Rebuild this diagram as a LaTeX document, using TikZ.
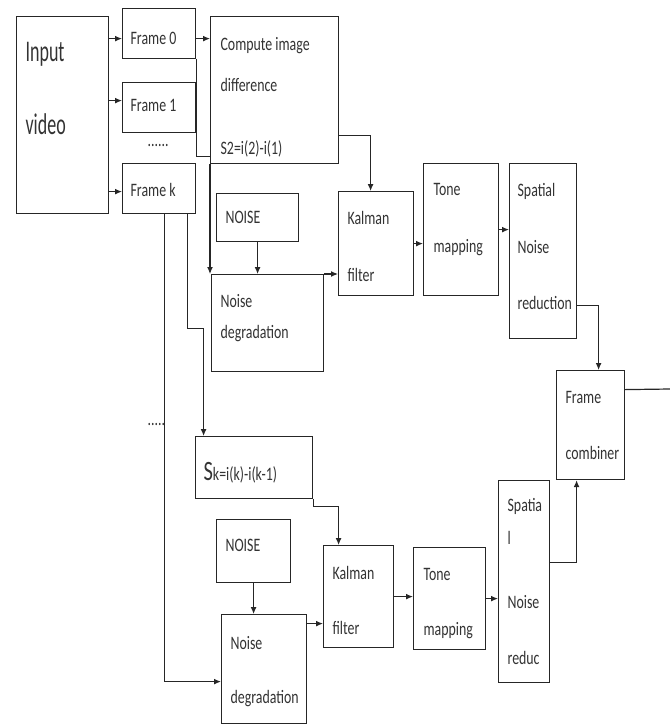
\documentclass[tikz,border=0pt]{standalone}
\usepackage{fontspec}
\setmainfont[FakeStretch=0.73]{Carlito}
\newfontfamily\narrowfont[FakeStretch=0.6]{Carlito}
\usepackage{tikz}
\usetikzlibrary{shapes,arrows.meta,positioning,calc}

\begin{document}
\begin{tikzpicture}[x=1pt, y=-1pt, >={Latex[length=7pt,width=6pt]}, line width=1.2pt, black!85,
  blk/.style={draw, rectangle, inner sep=0pt, anchor=north west},
  txt/.style={anchor=west, inner sep=0pt, text=black!80, font=\fontsize{19}{21}\selectfont}]
\useasboundingbox (0,0) rectangle (670,724);

% input and frames
\node[blk, minimum width=92pt, minimum height=197pt] (inp) at (16,16) {};
\node[txt, font=\narrowfont\fontsize{30}{32}\selectfont] (inpA) at (25,54) {Input};
\node[txt, font=\narrowfont\fontsize{30}{32}\selectfont] (inpB) at (25,124) {video};
\node[blk, minimum width=73pt, minimum height=50pt] (f0) at (122,8) {};
\node[txt] (f0t) at (130,38) {Frame 0};
\node[blk, minimum width=73pt, minimum height=50pt] (f1) at (122,82) {};
\node[txt] (f1t) at (130,105) {Frame 1};
\node[txt] (dotsA) at (147,145) {......};
\node[blk, minimum width=73pt, minimum height=50pt] (fk) at (122,163) {};
\node[txt] (fkt) at (130,190) {Frame k};

% first branch
\node[blk, minimum width=128pt, minimum height=147pt] (cmp) at (210,16) {};
\node[txt] (cmpA) at (220,46) {Compute image};
\node[txt] (cmpB) at (220,85) {difference};
\node[txt] (cmpC) at (220,149) {S2=i(2)-i(1)};
\node[blk, minimum width=82pt, minimum height=48pt] (noiseA) at (216,193) {};
\node[txt] (noiseAt) at (225,217) {NOISE};
\node[blk, minimum width=112pt, minimum height=97pt] (degA) at (211,274) {};
\node[txt] (degAa) at (220,301) {Noise};
\node[txt] (degAb) at (220,334) {degradation};
\node[blk, minimum width=75pt, minimum height=104pt] (kalA) at (338,191) {};
\node[txt] (kalAa) at (347,218) {Kalman};
\node[txt] (kalAb) at (347,275) {filter};
\node[blk, minimum width=75pt, minimum height=132pt] (toneA) at (423,163) {};
\node[txt] (toneAa) at (433,189) {Tone};
\node[txt] (toneAb) at (433,248) {mapping};
\node[blk, minimum width=67pt, minimum height=175pt] (spaA) at (509,163) {};
\node[txt] (spaAa) at (517,191) {Spatial};
\node[txt] (spaAb) at (517,247) {Noise};
\node[txt] (spaAc) at (517,303) {reduction};

% combiner
\node[blk, minimum width=68pt, minimum height=109pt] (comb) at (556,370) {};
\node[txt] (combA) at (565,397) {Frame};
\node[txt] (combB) at (565,453) {combiner};
\coordinate (out) at (670,389);

% k-th branch
\node[txt] (dotsB) at (147,424) {.....};
\node[blk, minimum width=117pt, minimum height=62pt] (sk) at (195,436) {};
\node[txt] (skt) at (203,473) {{\fontsize{28}{30}\selectfont S}k=i(k)-i(k-1)};
\node[blk, minimum width=74pt, minimum height=63pt] (noiseB) at (216,519) {};
\node[txt] (noiseBt) at (225,545) {NOISE};
\node[blk, minimum width=85pt, minimum height=109pt] (degB) at (221,614) {};
\node[txt] (degBa) at (230,643) {Noise};
\node[txt] (degBb) at (230,699) {degradation};
\node[blk, minimum width=70pt, minimum height=102pt] (kalB) at (323,545) {};
\node[txt] (kalBa) at (332,573) {Kalman};
\node[txt] (kalBb) at (332,628) {filter};
\node[blk, minimum width=72pt, minimum height=102pt] (toneB) at (413,547) {};
\node[txt] (toneBa) at (423,574) {Tone};
\node[txt] (toneBb) at (423,631) {mapping};
\node[blk, minimum width=51pt, minimum height=202pt] (spaB) at (498,480) {};
\node[txt] (spaBa) at (507,506) {Spatia};
\node[txt] (spaBb) at (507,538) {l};
\node[txt] (spaBc) at (507,602) {Noise};
\node[txt] (spaBd) at (507,658) {reduc};

% connectors
\draw[->] ([yshift=-5pt]inp.east |- f0.west) -- ([yshift=-5pt]f0.west);
\draw[->] ([yshift=7pt]inp.east |- f1.west) -- ([yshift=7pt]f1.west);
\draw[->] ([yshift=-3pt]inp.east |- fk.west) -- ([yshift=-3pt]fk.west);
\draw[->] ([yshift=-5pt]f0.east) -- ([yshift=-5pt]f0.east -| cmp.west);
\draw (f0.south east) |- ([yshift=8pt]cmp.south west);
\draw[->] ([xshift=5.5pt]fk.south) |- ([yshift=-12.5pt]degB.west);
\draw[->] ([xshift=28.5pt]fk.south) -- ++(0,114) -| ([xshift=-50.5pt]sk.north);
\draw[->] (cmp.south west) -- (cmp.south west |- degA.north);
\draw[->] (noiseA.south) -- (noiseA.south |- degA.north);
\draw[->] (degA.north east) -- (degA.north east -| kalA.west);
\draw[->] ([yshift=-45.5pt]cmp.east) -| ([xshift=-5.5pt]kalA.north);
\draw[->] (kalA.east) -- (kalA.east -| toneA.west);
\draw[->] (toneA.east) -- (toneA.east -| spaA.west);
\draw[->] ([yshift=-54.5pt]spaA.east) -| ([xshift=8pt]comb.north);
\draw ([yshift=35.5pt]comb.east) -- (out);
\draw[->] (sk.south east) -- ++(0,7) -| ([xshift=-20pt]kalB.north);
\draw[->] (noiseB.south) -- (noiseB.south |- degB.north);
\draw[->] ([yshift=45.5pt]degB.east) -- ([yshift=45.5pt]degB.east -| kalB.west);
\draw[->] (kalB.east) -- (kalB.east -| toneB.west);
\draw[->] (toneB.east) -- (toneB.east -| spaB.west);
\draw[->] ([yshift=19pt]spaB.east) -| ([xshift=-14pt]comb.south);
\end{tikzpicture}
\end{document}
